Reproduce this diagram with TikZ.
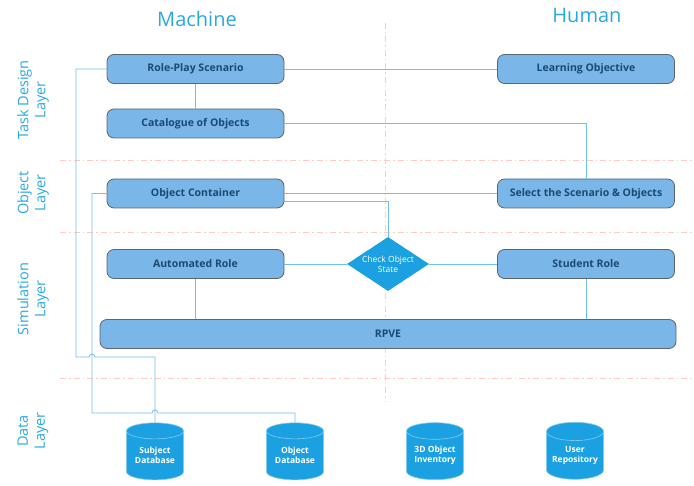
\documentclass[tikz,border=0pt]{standalone}
\usepackage{fontspec}
\setmainfont{Open Sans}
\usetikzlibrary{shapes.geometric}
\definecolor{boxfill}{HTML}{7AB6E8}
\definecolor{boxtext}{HTML}{1A4A72}
\definecolor{boxline}{HTML}{5C646E}
\definecolor{deepblue}{HTML}{1BA1E2}
\definecolor{wire}{HTML}{6EC1EA}
\definecolor{layerline}{HTML}{FFCCC4}
\definecolor{titleblue}{HTML}{2AA9E1}

\begin{document}
\begin{tikzpicture}[x=1pt,y=-1pt,
    block/.style={draw=boxline,fill=boxfill,line width=0.8pt,rounded corners=7pt,
        minimum width=177pt,minimum height=29pt,inner sep=0pt,text=boxtext,
        font=\fontsize{10.5}{12}\selectfont\bfseries},
    store/.style={cylinder,shape border rotate=90,aspect=0.4,draw=deepblue!55!white,
        fill=deepblue,line width=0.6pt,minimum width=57pt,minimum height=57pt,inner sep=0pt,
        text=white,align=center,font=\fontsize{8.5}{10.5}\selectfont\bfseries},
    layer/.style={rotate=90,align=center,text=titleblue,font=\fontsize{14.5}{17}\selectfont},
    wiring/.style={draw=wire,line width=0.75pt},
    split/.style={draw=layerline,line width=0.8pt,dash pattern=on 6pt off 3pt on 1.5pt off 3pt}]
    \useasboundingbox (0,0) rectangle (694,486);

    \draw[split](60,160)--(694,160);
    \draw[split](60,232)--(694,232);
    \draw[split](60,378)--(694,378);
    \draw[split](385,23)--(385,402);

    \node[text=titleblue,font=\fontsize{20}{24}\selectfont] (machine) at (197,19) {Machine};
    \node[text=titleblue,font=\fontsize{20}{24}\selectfont] (human) at (587,15) {Human};

    \node[layer] (taskl) at (33,100) {Task Design\\Layer};
    \node[layer] (objl) at (33,193) {Object\\Layer};
    \node[layer] (siml) at (33,299) {Simulation\\Layer};
    \node[layer] (datal) at (33,431) {Data\\Layer};

    \node[block] (rps) at (195.5,69) {Role-Play Scenario};
    \node[block] (cat) at (195.5,123.5) {Catalogue of Objects};
    \node[block] (oc) at (195.5,193.5) {Object Container};
    \node[block] (lo) at (586,69) {Learning Objective};
    \node[block] (sel) at (586,193.5) {Select the Scenario \& Objects};
    \node[block] (auto) at (195.5,264) {Automated Role};
    \node[block] (stud) at (586,264) {Student Role};
    \node[block,minimum width=576pt] (rpve) at (388,334) {RPVE};
    \node[diamond,fill=deepblue,minimum width=82pt,minimum height=54pt,aspect=1.52,inner sep=0pt,
        text=white,align=center,font=\fontsize{8.5}{10}\selectfont] (chk) at (388,264) {Check Object\\State};

    \node[store] (sdb) at (155,455.5) {Subject\\Database};
    \node[store] (odb) at (295,455.5) {Object\\Database};
    \node[store] (inv) at (435,455.5) {3D Object\\Inventory};
    \node[store] (urep) at (575,455.5) {User\\Repository};

    \draw[wiring](rps.east)--(lo.west);
    \draw[wiring](rps.south)--(cat.north);
    \draw[wiring](cat.east)-|(sel.north);
    \draw[wiring](oc.east)--(sel.west);
    \draw[wiring]([yshift=-8pt]oc.east)-|(chk.north);
    \draw[wiring](auto.east)--(chk.west);
    \draw[wiring](chk.east)--(stud.west);
    \draw[wiring](auto.south)--(auto.south|-rpve.north);
    \draw[wiring](stud.south)--(stud.south|-rpve.north);

    \draw[wiring](rps.west)-|(76,357)--(89,357)arc(180:360:3)-|(sdb.top);
    \draw[wiring](oc.west)-|(92,413)--(152,413)arc(180:360:3)-|(odb.top);
\end{tikzpicture}
\end{document}
